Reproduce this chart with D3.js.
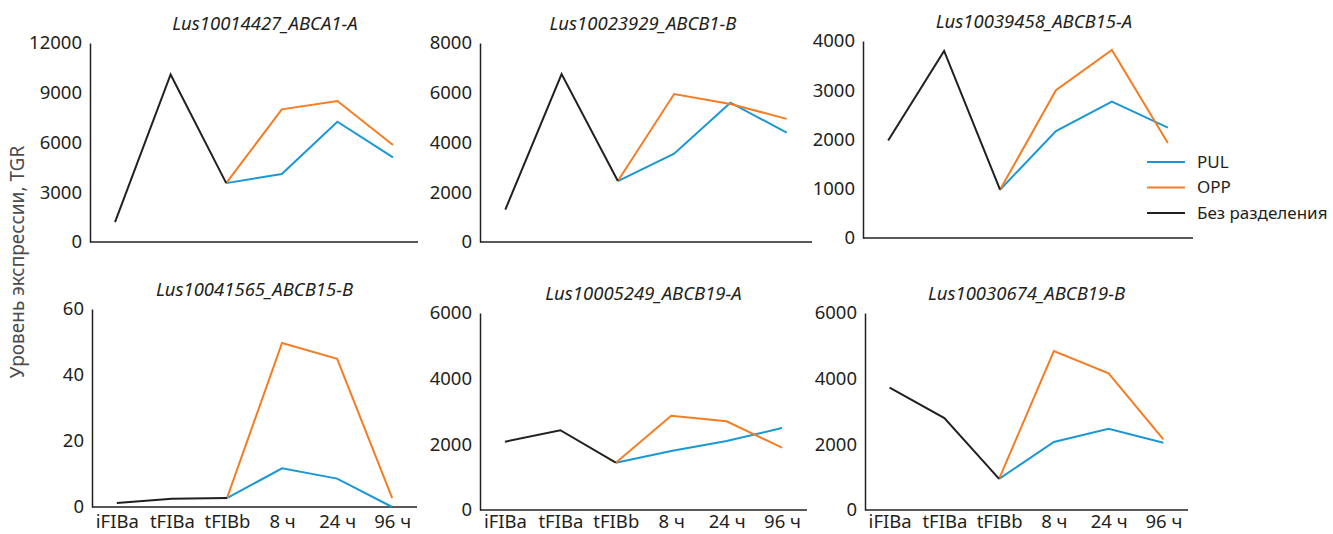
<!DOCTYPE html>
<html>
<head>
<meta charset="utf-8">
<style>
  html, body { margin: 0; padding: 0; background: #fff; }
  svg { display: block; font-family: "Noto Sans", sans-serif; }
</style>
</head>
<body>
<svg id="chart" width="1333" height="534"></svg>
<script src="https://cdn.jsdelivr.net/npm/d3@7"></script>
<script>
(function() {

  'use strict';

  /**
   * data
   *
   * @description Expression values
   */
  var categories = ['iFIBa', 'tFIBa', 'tFIBb', '8 ч', '24 ч', '96 ч'];
  var genes = [
    'Lus10014427_ABCA1-A', 'Lus10023929_ABCB1-B', 'Lus10039458_ABCB15-A',
    'Lus10041565_ABCB15-B', 'Lus10005249_ABCB19-A', 'Lus10030674_ABCB19-B'
  ];
  var yTicks = [
    [0, 3000, 6000, 9000, 12000],
    [0, 2000, 4000, 6000, 8000],
    [0, 1000, 2000, 3000, 4000],
    [0, 20, 40, 60],
    [0, 2000, 4000, 6000],
    [0, 2000, 4000, 6000]
  ];
  // iFIBa, tFIBa, tFIBb
  var noSplit = [
    [1200, 10100, 3550],
    [1300, 6750, 2450],
    [1980, 3800, 980],
    [1.2, 2.5, 2.7],
    [2080, 2430, 1440],
    [3730, 2800, 950]
  ];
  // tFIBb, 8 ч, 24 ч, 96 ч
  var pul = [
    [3550, 4100, 7250, 5100],
    [2450, 3550, 5600, 4400],
    [980, 2170, 2770, 2240],
    [2.7, 11.7, 8.6, 0],
    [1440, 1800, 2100, 2500],
    [950, 2070, 2470, 2050]
  ];
  var opp = [
    [3550, 8000, 8500, 5850],
    [2450, 5950, 5550, 4950],
    [980, 3000, 3820, 1930],
    [2.7, 49.7, 44.9, 2.7],
    [1440, 2870, 2700, 1900],
    [950, 4840, 4160, 2150]
  ];
  var legendLabels = ['PUL', 'OPP', 'Без разделения'];
  var yTitle = 'Уровень экспрессии, TGR';

  /**
   * layout
   *
   * @description Plot boxes [left, right, top, bottom] for each panel,
   * plus a small nudge for the titles that sit off-centre in the original
   */
  var boxes = [
    [90, 418, 43, 242],
    [480, 812, 43, 242],
    [863, 1193, 41, 238],
    [92, 417, 309, 507],
    [480, 807, 313, 510],
    [865, 1188, 313, 510]
  ];
  var titleShift = [11, -3, 6, 0, 0, 0];
  var labelBaseline = 528;
  var colours = { pul: '#1a98d5', opp: '#f47d24', none: '#231f20' };
  var ink = '#231f20';

  var svg = d3.select('#chart');

  var drawPanel = function(i) {
    var b = boxes[i];
    var g = svg.append('g');
    var ticks = yTicks[i];

    var x = d3.scalePoint()
      .domain(categories)
      .range([b[0], b[1]])
      .padding(0.45);

    var y = d3.scaleLinear()
      .domain([0, ticks[ticks.length - 1]])
      .range([b[3], b[2]]);

    // y axis
    var yAxis = g.append('g')
      .attr('transform', 'translate(' + b[0] + ',0)')
      .call(d3.axisLeft(y)
        .tickValues(ticks)
        .tickFormat(d3.format('d'))
        .tickSize(0)
        .tickPadding(8));
    yAxis.select('.domain').attr('stroke', ink).attr('stroke-width', 1.5);
    yAxis.selectAll('text')
      .attr('fill', ink)
      .style('font-size', '18.5px')
      .style('font-family', '"Noto Sans", sans-serif');

    // x axis
    var xAxis = g.append('g')
      .attr('transform', 'translate(0,' + b[3] + ')')
      .call(d3.axisBottom(x).tickSize(0).tickPadding(labelBaseline - b[3] - 13));
    xAxis.select('.domain')
      .attr('d', 'M' + b[0] + ',0H' + b[1])
      .attr('stroke', ink)
      .attr('stroke-width', 1.5);
    xAxis.selectAll('text')
      .attr('fill', ink)
      .style('font-size', '18.5px')
      .style('font-family', '"Noto Sans", sans-serif');
    if (i < 3) xAxis.selectAll('.tick').remove();

    // title
    g.append('text')
      .attr('x', (b[0] + b[1]) / 2 + titleShift[i])
      .attr('y', b[2] - 13)
      .attr('text-anchor', 'middle')
      .attr('fill', ink)
      .style('font-size', '18.5px')
      .style('font-style', 'italic')
      .text(genes[i]);

    var line = d3.line()
      .x(function(d) { return x(d[0]); })
      .y(function(d) { return y(d[1]); });

    var pair = function(vals, offset) {
      return vals.map(function(v, k) { return [categories[k + offset], v]; });
    };

    g.append('path')
      .attr('d', line(pair(pul[i], 2)))
      .attr('fill', 'none')
      .attr('stroke', colours.pul)
      .attr('stroke-width', 2);

    g.append('path')
      .attr('d', line(pair(opp[i], 2)))
      .attr('fill', 'none')
      .attr('stroke', colours.opp)
      .attr('stroke-width', 2);

    g.append('path')
      .attr('d', line(pair(noSplit[i], 0)))
      .attr('fill', 'none')
      .attr('stroke', colours.none)
      .attr('stroke-width', 2);
  };

  for (var i = 0; i < genes.length; i++) drawPanel(i);

  // legend
  var legend = svg.append('g').attr('transform', 'translate(1147,162)');
  var legendColours = [colours.pul, colours.opp, colours.none];
  legendLabels.forEach(function(label, k) {
    legend.append('line')
      .attr('x1', 0).attr('x2', 38)
      .attr('y1', k * 25.5).attr('y2', k * 25.5)
      .attr('stroke', legendColours[k])
      .attr('stroke-width', 2);
    legend.append('text')
      .attr('x', 50)
      .attr('y', k * 25.5)
      .attr('dy', '0.35em')
      .attr('fill', ink)
      .style('font-size', '17px')
      .text(label);
  });

  // shared y title
  svg.append('text')
    .attr('transform', 'translate(23.5,262) rotate(-90)')
    .attr('text-anchor', 'middle')
    .attr('fill', '#4d4d4f')
    .style('font-size', '19px')
    .text(yTitle);

})();
</script>
</body>
</html>
